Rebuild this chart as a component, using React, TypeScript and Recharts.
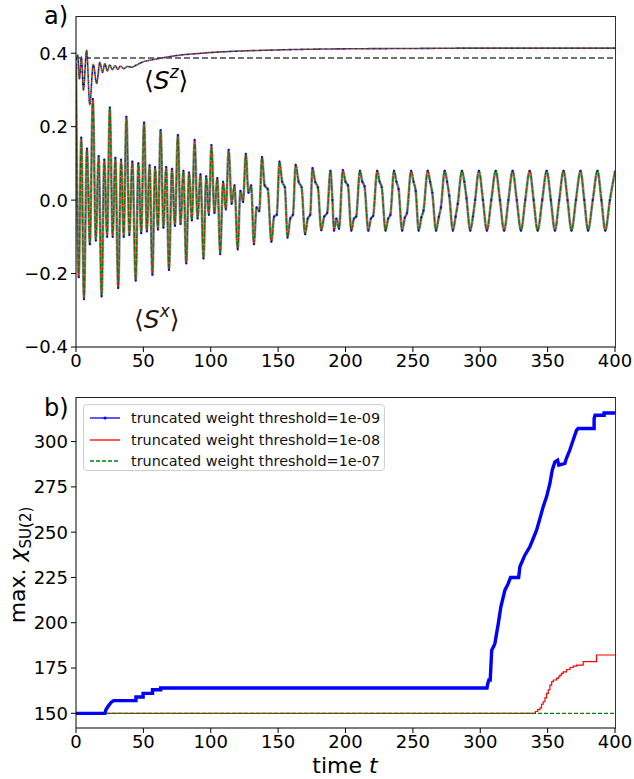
import React from 'react';
import { LineChart, Line, XAxis, YAxis, ReferenceLine } from 'recharts';

const FONT = '"DejaVu Sans", "Liberation Sans", sans-serif';

// ---------- panel a) ----------
const SX_T = [
  0, 2.0, 3.9, 5.9, 8.1, 10.3, 12.5, 14.7, 16.8, 19.0, 21.0, 23.1, 25.1, 27.2, 29.2, 31.3, 33.5, 35.4, 37.4, 39.6,
  41.8, 44.3, 46.3, 48.4, 50.5, 52.6, 54.6, 56.7, 58.7, 60.8, 62.8, 64.9, 66.9, 69.0, 71.2, 73.4, 75.6, 77.6, 79.7, 81.8,
  83.9, 86.0, 88.0, 90.2, 92.4, 94.6, 96.6, 98.6, 100.5, 102.7, 104.9, 107.0, 109.1, 111.2, 113.3, 115.5, 117.6, 120.0, 122.0, 124.0,
  126.0, 128.0, 130.0, 132.0, 134.0, 136.0, 138.0, 140.0, 142.3, 145.0, 147.0, 149.0, 151.0, 153.0, 155.0, 157.0, 159.0, 161.0, 163.0, 165.2,
  167.4, 170.0, 172.0, 173.8, 175.5, 177.5, 179.5, 182.0, 184.2, 186.4, 188.8, 190.3, 191.5, 193.2, 195.2, 198.0, 200.0, 201.8, 204.3, 206.3,
  207.9, 210.7, 212.5, 214.1, 216.9, 218.9, 220.5, 223.5, 225.3, 226.9, 229.7, 231.7, 233.3, 236.0, 237.8, 239.4, 242.0, 244.0, 245.6, 248.7,
  250.5, 252.1, 254.3, 256.3, 257.9, 261.0, 262.8, 264.4, 267.2, 269.2, 270.8, 273.6, 275.4, 277.0, 279.7, 281.7, 283.3, 286.4, 288.2, 289.8,
  292.6, 294.6, 296.2, 299.0, 302.0, 304.9, 308.2, 311.5, 314.6, 317.7, 320.9, 324.0, 327.1, 330.2, 333.4, 336.7, 339.6, 342.6, 346.0, 349.3,
  352.4, 355.4, 358.6, 361.8, 364.8, 367.7, 371.0, 374.4, 377.2, 380.0, 383.5, 387.0, 389.9, 392.8, 396.2, 400.0,
];
const SX_V = [
  0.37, -0.21, 0.17, -0.27, 0.14, -0.12, 0.275, -0.11, 0.12, -0.262, 0.11, -0.1, 0.252, -0.1, 0.115, -0.239, 0.11, -0.1, 0.227, -0.095,
  0.105, -0.219, 0.1, -0.09, 0.211, -0.085, 0.095, -0.203, 0.09, -0.08, 0.191, -0.075, 0.09, -0.19, 0.085, -0.07, 0.177, -0.065, 0.08, -0.172,
  0.075, -0.055, 0.164, -0.05, 0.07, -0.159, 0.065, -0.04, 0.15, -0.035, 0.06, -0.147, 0.05, -0.025, 0.137, -0.01, 0.04, -0.134, 0.025, -0.005,
  0.126, 0.02, 0.04, -0.12, -0.02, -0.03, 0.117, 0.04, 0.03, -0.113, -0.045, -0.04, 0.105, 0.05, 0.035, -0.102, -0.05, -0.04, 0.096, 0.05,
  0.035, -0.093, -0.05, -0.04, 0.087, 0.05, 0.035, -0.082, -0.045, -0.035, 0.08, 0.0, -0.083, -0.05, -0.078, 0.082, 0.05, 0.04, -0.083, -0.05,
  -0.045, 0.08, 0.05, 0.038, -0.083, -0.05, -0.043, 0.08, 0.05, 0.035, -0.083, -0.05, -0.04, 0.08, 0.05, 0.03, -0.083, -0.048, -0.035, 0.08,
  0.05, 0.025, -0.083, -0.047, -0.028, 0.08, 0.05, 0.02, -0.083, -0.046, -0.02, 0.08, 0.05, 0.012, -0.083, -0.045, -0.01, 0.08, 0.05, 0.005,
  -0.083, -0.044, 0.0, 0.08, 0.0, -0.083, 0.0, 0.08, 0.0, -0.083, 0.0, 0.08, 0.0, -0.083, 0.0, 0.08, 0.0, -0.083, 0.0, 0.08,
  0.0, -0.083, 0.0, 0.08, 0.0, -0.083, 0.0, 0.08, 0.0, -0.083, 0.0, 0.08, 0.0, -0.083, 0.0, 0.078,
];
const SZ_T = [0, 1.2, 2.5, 4, 5.5, 7.9, 10.2, 12.8, 15.3, 17.7, 19.7, 21.4, 23.2, 25, 27, 29, 31, 33, 35.5, 38, 41, 45, 50, 55, 62, 70, 80, 90, 100, 115, 130, 150, 175, 200, 250, 300, 350, 400];
const SZ_V = [0.38, 0.395, 0.33, 0.39, 0.3, 0.408, 0.26, 0.37, 0.318, 0.375, 0.348, 0.372, 0.352, 0.368, 0.355, 0.366, 0.356, 0.365, 0.358, 0.364, 0.362, 0.368, 0.377, 0.381, 0.386, 0.391, 0.396, 0.399, 0.402, 0.405, 0.407, 0.409, 0.411, 0.412, 0.413, 0.414, 0.414, 0.414];
const SZ_REF = 0.387;

const X_TICKS = [0, 50, 100, 150, 200, 250, 300, 350, 400];
const A_Y_TICKS = [-0.4, -0.2, 0, 0.2, 0.4];
const A_Y_DOMAIN = [-0.4, 0.5014];

// ---------- panel b) ----------
const CHI9_T = [0, 21.5, 22.2, 24, 26, 28, 44.5, 44.5, 49.8, 49.8, 56.8, 56.8, 62.8, 62.8, 305, 305.6, 306.4, 307.4, 308.5, 310, 310.9, 312.1, 313.4, 315.3, 318.3, 320.8, 322.5, 328.5, 329.4, 333.1, 336.8, 339.3, 341.8, 344.3, 346.7, 349.2, 351.7, 353.4, 355.4, 357.4, 358.3, 362.8, 363.9, 366.4, 368.9, 371.4, 372.6, 384.5, 384.5, 385.2, 391.9, 391.9, 400];
const CHI9_V = [150, 150, 152, 154, 156, 157, 157, 159, 159, 161, 161, 163, 163, 164, 164, 166.5, 168.4, 168.4, 184.9, 187, 188.6, 194, 199.6, 208.8, 218, 221.7, 225, 225, 230.9, 237.3, 241.9, 246.5, 251.1, 257.6, 264, 269.5, 276.9, 284.2, 288.8, 289.7, 287, 288, 290.6, 295.2, 300.7, 306.2, 307.2, 307.2, 312.7, 314.5, 314.5, 315.8, 315.8];
const CHI8_T = [0, 341, 342.5, 344.3, 345.5, 346.7, 348, 349.2, 350.5, 351.7, 353, 354.2, 356.6, 358, 359.1, 360.3, 361.6, 364.1, 366.6, 369, 371.5, 376.4, 386.3, 400];
const CHI8_V = [150, 151, 152, 153, 155, 156.4, 158.5, 161, 163, 165.6, 167.5, 168.4, 169.3, 170.2, 171.1, 172, 172.9, 174.2, 175.3, 176.1, 176.6, 178.5, 182.2, 182.2];
const CHI7_T = [0, 400];
const CHI7_V = [150, 150];
const B_Y_TICKS = [150, 175, 200, 225, 250, 275, 300];
const B_Y_DOMAIN = [141.9, 324.6];
const SERIES_NAMES = [
  'truncated weight threshold=1e-09',
  'truncated weight threshold=1e-08',
  'truncated weight threshold=1e-07',
];

const zip = (ts: number[], vs: number[]) => ts.map((t, i) => ({ t, v: vs[i] }));

const tickStyle = { fontSize: 18, fill: '#000', fontFamily: FONT };
const fmtA = (v: number) => (Math.abs(v) < 1e-9 ? '0.0' : (v < 0 ? '\u2212' : '') + Math.abs(v).toFixed(1));

const frameStyle = (top: number): React.CSSProperties => ({
  position: 'absolute', left: 76, top, width: 540, height: 332, boxSizing: 'border-box',
  borderTop: '1px solid #222', borderRight: '1px solid #333', pointerEvents: 'none',
});

export default function App() {
  const sx = zip(SX_T, SX_V);
  const sz = zip(SZ_T, SZ_V);
  const chi9 = zip(CHI9_T, CHI9_V);
  const chi8 = zip(CHI8_T, CHI8_V);
  const chi7 = zip(CHI7_T, CHI7_V);

  return (
    <div style={{ position: 'absolute', left: 0, top: 0, width: 634, height: 779, background: '#fff', fontFamily: FONT, overflow: 'hidden' }}>
      <div style={{ position: 'absolute', left: 0, top: 0 }}>
        <LineChart width={634} height={380} margin={{ top: 16, right: 19, bottom: 0, left: 20 }}>
          <XAxis dataKey="t" type="number" domain={[0, 400]} ticks={X_TICKS} tick={tickStyle} tickSize={5} tickMargin={2} height={33} axisLine={{ stroke: '#000' }} tickLine={{ stroke: '#000' }} allowDataOverflow />
          <YAxis type="number" domain={A_Y_DOMAIN} ticks={A_Y_TICKS} tickFormatter={fmtA} tick={tickStyle} tickSize={5} tickMargin={3} width={56} axisLine={{ stroke: '#000' }} tickLine={{ stroke: '#000' }} allowDataOverflow />
          <ReferenceLine y={SZ_REF} stroke="#444" strokeDasharray="6 3" strokeWidth={1.4} />
          <Line data={sz} dataKey="v" type="monotone" stroke="#0000ff" strokeWidth={1.6} strokeDasharray="2 4" dot={false} activeDot={false} isAnimationActive={false} />
          <Line data={sz} dataKey="v" type="monotone" stroke="#ff0000" strokeWidth={1.6} strokeDasharray="2 4" strokeDashoffset={2} dot={false} activeDot={false} isAnimationActive={false} />
          <Line data={sz} dataKey="v" type="monotone" stroke="#008000" strokeWidth={1.6} strokeDasharray="2 4" strokeDashoffset={4} dot={false} activeDot={false} isAnimationActive={false} />
          <Line data={sx} dataKey="v" type="monotone" stroke="#6a6a6a" strokeOpacity={0.75} strokeWidth={2.6} dot={false} activeDot={false} isAnimationActive={false} />
          <Line data={sx} dataKey="v" type="monotone" stroke="#008000" strokeWidth={1.4} strokeDasharray="4 3" dot={false} activeDot={false} isAnimationActive={false} />
          <Line data={sx} dataKey="v" type="monotone" stroke="#ff0000" strokeWidth={1.2} strokeDasharray="2 5" strokeDashoffset={3} dot={{ r: 1.1, fill: '#0000ff', stroke: 'none' }} activeDot={false} isAnimationActive={false} />
        </LineChart>
      </div>
      <div style={frameStyle(16)} />

      <div style={{ position: 'absolute', left: 0, top: 380 }}>
        <LineChart width={634} height={381} margin={{ top: 17, right: 19, bottom: 0, left: 20 }}>
          <XAxis dataKey="t" type="number" domain={[0, 400]} ticks={X_TICKS} tick={tickStyle} tickSize={5} tickMargin={2} height={33} axisLine={{ stroke: '#000' }} tickLine={{ stroke: '#000' }} allowDataOverflow />
          <YAxis type="number" domain={B_Y_DOMAIN} ticks={B_Y_TICKS} tick={tickStyle} tickSize={5} tickMargin={3} width={56} axisLine={{ stroke: '#000' }} tickLine={{ stroke: '#000' }} allowDataOverflow />
          <Line data={chi8} dataKey="v" type="stepAfter" stroke="#ff0000" strokeWidth={1.2} dot={false} activeDot={false} isAnimationActive={false} />
          <Line data={chi7} dataKey="v" type="linear" stroke="#008000" strokeWidth={1.2} strokeDasharray="4 2" dot={false} activeDot={false} isAnimationActive={false} />
          <Line data={chi9} dataKey="v" type="linear" stroke="#0000ff" strokeWidth={3.4} dot={false} activeDot={false} isAnimationActive={false} />
        </LineChart>
      </div>
      <div style={frameStyle(397)} />

      {/* panel letters */}
      <div style={{ position: 'absolute', left: 44, top: 2, fontSize: 24, color: '#000' }}>a)</div>
      <div style={{ position: 'absolute', left: 44, top: 394, fontSize: 24, color: '#000' }}>b)</div>

      {/* annotations */}
      <div style={{ position: 'absolute', left: 144, top: 66, fontSize: 25, color: '#000', whiteSpace: 'nowrap' }}>
        {'\u27E8'}<i>S</i><sup style={{ fontSize: 17, verticalAlign: 'top', position: 'relative', top: -4 }}><i>z</i></sup>{'\u27E9'}
      </div>
      <div style={{ position: 'absolute', left: 134, top: 305, fontSize: 25, color: '#2b1208', whiteSpace: 'nowrap' }}>
        {'\u27E8'}<i>S</i><sup style={{ fontSize: 17, verticalAlign: 'top', position: 'relative', top: -4 }}><i>x</i></sup>{'\u27E9'}
      </div>

      {/* legend */}
      <div style={{ position: 'absolute', left: 83, top: 404, width: 302, height: 67, border: '1px solid #d0d0d0', borderRadius: 4, background: 'rgba(255,255,255,0.85)', boxSizing: 'border-box' }}>
        {SERIES_NAMES.map((name, i) => (
          <div key={name} style={{ position: 'absolute', left: 5, top: 3 + i * 21.5, height: 20, display: 'flex', alignItems: 'center', whiteSpace: 'nowrap' }}>
            <svg width={32} height={20} style={{ display: 'block' }}>
              {i === 0 && <line x1={1} y1={10} x2={31} y2={10} stroke="#0000ff" strokeWidth={1.3} />}
              {i === 0 && <circle cx={16} cy={10} r={1.6} fill="#0000ff" />}
              {i === 1 && <line x1={1} y1={10} x2={31} y2={10} stroke="#ff0000" strokeWidth={1.3} />}
              {i === 2 && <line x1={1} y1={10} x2={31} y2={10} stroke="#008000" strokeWidth={1.3} strokeDasharray="4 2" />}
            </svg>
            <span style={{ fontSize: 14.4, marginLeft: 10, color: '#111' }}>{name}</span>
          </div>
        ))}
      </div>

      {/* axis labels */}
      <div style={{ position: 'absolute', left: 20, top: 565, width: 0, height: 0 }}>
        <div style={{ position: 'absolute', transform: 'translate(-50%, -50%) rotate(-90deg)', whiteSpace: 'nowrap', fontSize: 22, color: '#000' }}>
          max. <i>{'\u03C7'}</i><sub style={{ fontSize: 15 }}>SU(2)</sub>
        </div>
      </div>
      <div style={{ position: 'absolute', left: 345, top: 765, width: 0, height: 0 }}>
        <div style={{ position: 'absolute', transform: 'translate(-50%, -50%)', whiteSpace: 'nowrap', fontSize: 22, color: '#000' }}>
          time <i>t</i>
        </div>
      </div>
    </div>
  );
}
